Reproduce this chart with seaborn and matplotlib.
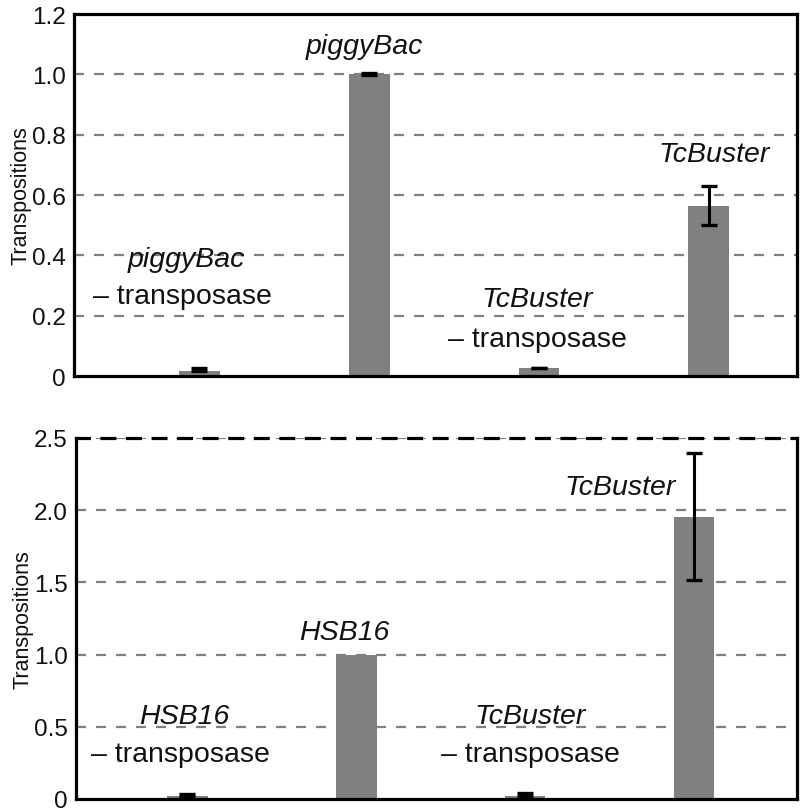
import matplotlib
matplotlib.use("Agg")
import matplotlib.pyplot as plt
import seaborn as sns
import pandas as pd
import numpy as np

# ---- data ----
top_categories = ["piggyBac - transposase", "piggyBac", "TcBuster - transposase", "TcBuster"]
top_values = [0.016, 1.0, 0.025, 0.565]
top_err_lower = [0.0, 0.003, 0.0, 0.065]
top_err_upper = [0.009, 0.003, 0.003, 0.065]
top_ticks = [0, 0.2, 0.4, 0.6, 0.8, 1.0, 1.2]
top_ticklabels = ["0", "0.2", "0.4", "0.6", "0.8", "1.0", "1.2"]

bot_categories = ["HSB16 - transposase", "HSB16", "TcBuster - transposase", "TcBuster"]
bot_values = [0.023, 1.0, 0.02, 1.955]
bot_err_lower = [0.0, 0.0, 0.0, 0.44]
bot_err_upper = [0.014, 0.0, 0.02, 0.44]
bot_ticks = [0, 0.5, 1.0, 1.5, 2.0, 2.5]
bot_ticklabels = ["0", "0.5", "1.0", "1.5", "2.0", "2.5"]

sns.set_theme(style="white")
plt.rcParams['font.family'] = ['Liberation Sans', 'DejaVu Sans']

fig = plt.figure(figsize=(8.03, 8.12), dpi=100)
ax1 = fig.add_axes([0.092, 0.5357, 0.9005, 0.4458])
ax2 = fig.add_axes([0.0946, 0.0148, 0.898, 0.4446])

GRAY = "#808080"

def draw(ax, cats, vals, elo, ehi, ticks, ticklabels, ylim, xlim):
    df = pd.DataFrame({"cat": cats, "val": vals})
    sns.barplot(data=df, x="cat", y="val", ax=ax, color=GRAY, saturation=1,
                width=0.24, errorbar=None, zorder=2)
    for p in ax.patches:
        p.set_edgecolor("none")
    x = np.arange(len(cats))
    v = np.asarray(vals)
    lo = np.asarray(elo)
    hi = np.asarray(ehi)
    m = hi > 0
    ax.errorbar(x[m], v[m], yerr=[lo[m], hi[m]], fmt="none", ecolor="black",
                elinewidth=2.2, capsize=5.8, capthick=2.4, zorder=3)
    ax.set_ylim(*ylim)
    ax.set_xlim(*xlim)
    ax.set_yticks(ticks)
    ax.set_yticklabels(ticklabels, fontsize=17.5, color="#111111")
    ax.set_xticks([])
    ax.set_xlabel("")
    ax.set_ylabel("Transpositions", fontsize=15.5, color="#111111", labelpad=0)
    ax.tick_params(axis="y", length=0, pad=6)
    for t in ticks[1:]:
        ax.axhline(t, color=GRAY, linestyle=(0, (4.5, 4.5)), linewidth=1.6, zorder=1)
    for s in ax.spines.values():
        s.set_color("black")
        s.set_linewidth(2.3)

draw(ax1, top_categories, top_values, top_err_lower, top_err_upper, top_ticks,
     top_ticklabels, (0, 1.2), (-0.74, 3.52))
draw(ax2, bot_categories, bot_values, bot_err_lower, bot_err_upper, bot_ticks,
     bot_ticklabels, (0, 2.5), (-0.66, 3.61))
ax2.spines["top"].set_linestyle((0, (4, 4)))

FS = 20.5
def lab(ax, x, y, s, italic=False):
    ax.text(x, y, s, ha="center", va="center", fontsize=FS,
            style="italic" if italic else "normal", color="#111111", zorder=4)

# top panel labels
lab(ax1, -0.08, 0.387, "piggyBac", True)
lab(ax1, -0.10, 0.265, "\u2013 transposase")
lab(ax1, 0.97, 1.093, "piggyBac", True)
lab(ax1, 1.99, 0.255, "TcBuster", True)
lab(ax1, 1.99, 0.123, "\u2013 transposase")
lab(ax1, 3.03, 0.735, "TcBuster", True)

# bottom panel labels
lab(ax2, -0.02, 0.575, "HSB16", True)
lab(ax2, -0.04, 0.31, "\u2013 transposase")
lab(ax2, 0.93, 1.156, "HSB16", True)
lab(ax2, 2.03, 0.575, "TcBuster", True)
lab(ax2, 2.03, 0.31, "\u2013 transposase")
lab(ax2, 2.56, 2.16, "TcBuster", True)

fig.savefig("out.png", dpi=100)
